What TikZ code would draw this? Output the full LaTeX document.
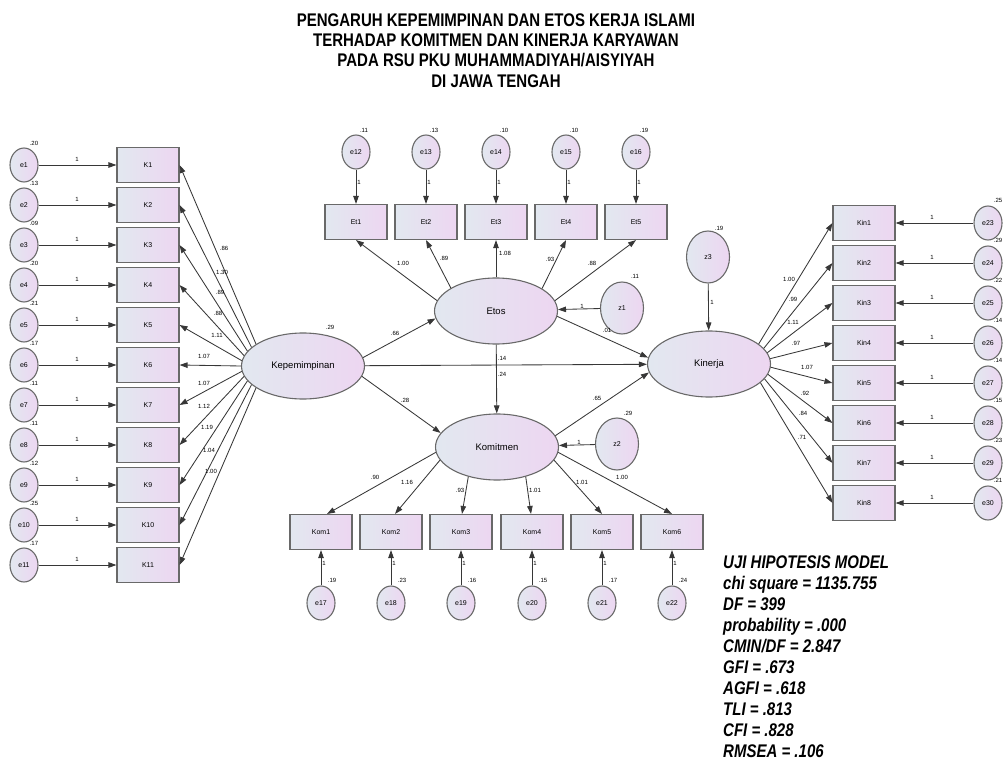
\documentclass[tikz,border=0pt]{standalone}
\usepackage{fontspec}
\setmainfont{Liberation Sans}
\newfontfamily\narrowfont[FakeStretch=0.82]{Liberation Sans}
\usetikzlibrary{shapes.geometric,arrows.meta,calc}

\definecolor{fillL}{RGB}{226,232,240}
\definecolor{fillR}{RGB}{237,214,241}
\definecolor{edgec}{RGB}{105,105,105}
\definecolor{arrc}{RGB}{55,55,55}

\tikzset{
 shp/.style={draw=edgec, line width=1.1pt, left color=fillL, right color=fillR, inner sep=0pt},
 obs/.style={shp, rectangle, minimum width=62pt, minimum height=35pt, font=\fontsize{7}{7}\selectfont},
 err/.style={shp, ellipse, minimum width=28pt, minimum height=34pt, font=\fontsize{7}{7}\selectfont},
 dist/.style={shp, ellipse, minimum width=43pt, minimum height=52pt, font=\fontsize{7}{7}\selectfont},
 lat/.style={shp, ellipse, minimum width=123pt, minimum height=66pt, font=\fontsize{9.5}{9.5}\selectfont},
 pth/.style={draw=arrc, line width=0.85pt, -{Triangle[length=8pt,width=5.5pt]}},
 lbl/.style={font=\fontsize{6}{6}\selectfont, inner sep=0pt},
 ttl/.style={font=\narrowfont\bfseries\fontsize{18.3}{20}\selectfont, inner sep=0pt, anchor=base},
 fitt/.style={font=\narrowfont\bfseries\itshape\fontsize{18.3}{20}\selectfont, inner sep=0pt, anchor=base west},
}

\begin{document}
\begin{tikzpicture}[x=1pt,y=-1pt]
\useasboundingbox (0,0) rectangle (1003,762);

% title
\node[ttl] (t1) at (496,27) {PENGARUH KEPEMIMPINAN DAN ETOS KERJA ISLAMI};
\node[ttl] (t2) at (496,47) {TERHADAP KOMITMEN DAN KINERJA KARYAWAN};
\node[ttl] (t3) at (496,67) {PADA RSU PKU MUHAMMADIYAH/AISYIYAH};
\node[ttl] (t4) at (496,88) {DI JAWA TENGAH};

% latent variables
\node[lat] (kep) at (303,366) {Kepemimpinan};
\node[lat] (etos) at (496,311) {Etos};
\node[lat] (kom) at (497,447) {Komitmen};
\node[lat] (kin) at (709,364) {Kinerja};
\node[dist] (z1) at (622,308) {z1};
\node[dist] (z2) at (617,444) {z2};
\node[dist] (z3) at (708,257) {z3};

% structural paths
\draw[pth] (kep.8) -- (etos.187);
\draw[pth] (kep) -- (kin);
\draw[pth] (kep.-10) -- (kom.166);
\draw[pth] (etos) -- (kom);
\draw[pth] (etos.-5) -- (kin.174);
\draw[pth] (kom.11) -- (kin.188);
\draw[pth] (z1) -- (etos);
\draw[pth] (z2) -- (kom);
\draw[pth] (z3) -- (kin);

\node[lbl] (vkep) at (330,327) {.29};
\node[lbl] (pke) at (395,333) {.66};
\node[lbl] (pkk) at (502,358) {.14};
\node[lbl] (pek) at (502,374) {.24};
\node[lbl] (pkko) at (405,400) {.28};
\node[lbl] (pkoki) at (597,398) {.65};
\node[lbl] (vz1) at (635,276) {.11};
\node[lbl] (oz1) at (582,306) {1};
\node[lbl] (peki) at (607,330) {.01};
\node[lbl] (vz2) at (628,413) {.29};
\node[lbl] (oz2) at (579,442) {1};
\node[lbl] (vz3) at (719,228) {.19};
\node[lbl] (oz3) at (712,302) {1};

% Kepemimpinan indicators
\foreach \i/\var/\ld/\lx/\ly in {1/.20/.86/224/248, 2/.13/1.30/222/272, 3/.09/.89/220/292, 4/.20/.88/218/313, 5/.21/1.11/217/335, 6/.17/1.07/204/356, 7/.11/1.07/204/383, 8/.11/1.12/204/406, 9/.12/1.19/207/427, 10/.25/1.04/209/450, 11/.17/1.00/211/471}{
 \pgfmathtruncatemacro\yy{125+40*\i}
 \pgfmathtruncatemacro\ang{150+5*\i}
 \node[err] (e\i) at (24,\yy) {e\i};
 \node[obs] (K\i) at (148,\yy) {K\i};
 \draw[pth] (e\i) -- (K\i);
 \draw[pth] (kep.\ang) -- (K\i.east);
 \node[lbl] (ve\i) at (34,\yy-22) {\var};
 \node[lbl] (oe\i) at (77,\yy-6) {1};
 \node[lbl] (lk\i) at (\lx,\ly) {\ld};
}

% Etos indicators
\foreach \i/\xx/\var/\ld/\lx/\ly/\ang in {1/356/.11/1.00/403/263/170, 2/426/.13/.89/444/258/153, 3/496/.10/1.08/505/253/90, 4/566/.10/.93/550/259/26, 5/636/.19/.88/592/263/10}{
 \pgfmathtruncatemacro\en{11+\i}
 \node[err] (e\en) at (\xx,152) {e\en};
 \node[obs] (Et\i) at (\xx,222) {Et\i};
 \draw[pth] (e\en) -- (Et\i);
 \draw[pth] (etos.\ang) -- (Et\i.south);
 \node[lbl] (ve\en) at (\xx+8,130) {\var};
 \node[lbl] (oe\en) at (\xx+3,182) {1};
 \node[lbl] (let\i) at (\lx,\ly) {\ld};
}

% Komitmen indicators
\foreach \i/\xx/\var/\ld/\lx/\ly/\ang/\dx in {1/321/.19/.90/375/477/185/6, 2/391/.23/1.16/407/482/193/4, 3/461/.16/.93/460/490/226/1, 4/532/.15/1.01/535/490/-46/-1, 5/602/.17/1.01/582/482/-13/0, 6/672/.24/1.00/622/477/-5/0}{
 \pgfmathtruncatemacro\en{16+\i}
 \node[obs] (Kom\i) at (\xx,532) {Kom\i};
 \node[err] (e\en) at (\xx,603) {e\en};
 \draw[pth] (e\en) -- (Kom\i);
 \draw[pth] (kom.\ang) -- ([xshift=\dx pt]Kom\i.north);
 \node[lbl] (oe\en) at (\xx+3,563) {1};
 \node[lbl] (ve\en) at (\xx+11,580) {\var};
 \node[lbl] (lko\i) at (\lx,\ly) {\ld};
}

% Kinerja indicators
\foreach \i/\var/\ld/\lx/\ly/\ang in {1/.25/1.00/789/279/22, 2/.29/.99/793/299/16, 3/.22/1.11/793/322/11, 4/.14/.97/796/343/5, 5/.14/1.07/807/367/-3, 6/.15/.92/805/393/-10, 7/.23/.84/803/413/-15, 8/.21/.71/802/437/-20}{
 \pgfmathtruncatemacro\yy{183+40*\i}
 \pgfmathtruncatemacro\en{22+\i}
 \node[obs] (Kin\i) at (864,\yy) {Kin\i};
 \node[err] (e\en) at (988,\yy) {e\en};
 \draw[pth] (e\en) -- (Kin\i);
 \draw[pth] (kin.\ang) -- (Kin\i.west);
 \node[lbl] (oe\en) at (932,\yy-6) {1};
 \node[lbl] (ve\en) at (998,\yy-23) {\var};
 \node[lbl] (lki\i) at (\lx,\ly) {\ld};
}

% fit indices
\node[fitt] (f0) at (723,568) {UJI HIPOTESIS MODEL};
\node[fitt] (f1) at (723,589.1) {chi square = 1135.755};
\node[fitt] (f2) at (723,610.2) {DF = 399};
\node[fitt] (f3) at (723,631.3) {probability = .000};
\node[fitt] (f4) at (723,652.4) {CMIN/DF = 2.847};
\node[fitt] (f5) at (723,673.5) {GFI = .673};
\node[fitt] (f6) at (723,694.6) {AGFI = .618};
\node[fitt] (f7) at (723,715.7) {TLI = .813};
\node[fitt] (f8) at (723,736.8) {CFI = .828};
\node[fitt] (f9) at (723,757.9) {RMSEA = .106};
\end{tikzpicture}
\end{document}
